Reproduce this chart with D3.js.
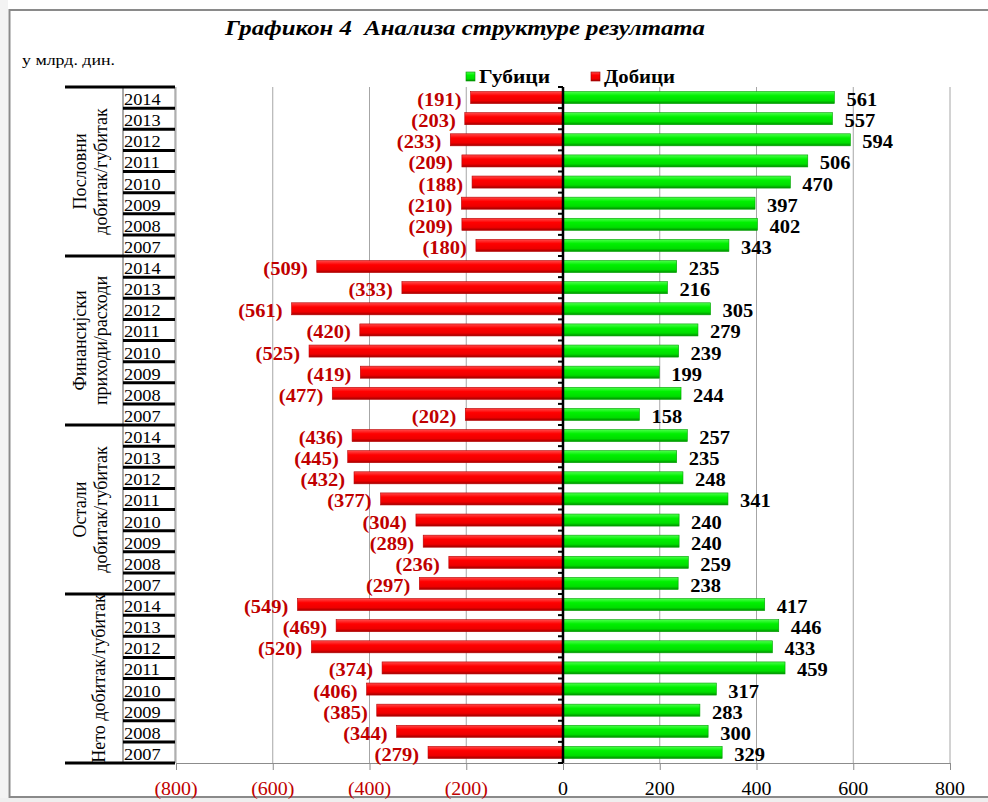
<!DOCTYPE html>
<html>
<head>
<meta charset="utf-8">
<script src="https://cdn.jsdelivr.net/npm/d3@7"></script>
<style>
  html, body { margin: 0; padding: 0; background: #fff; }
  svg { display: block; }
  text { font-family: "Liberation Serif", "Times New Roman", serif; }
</style>
</head>
<body>
<svg id="chart" width="988" height="802"></svg>
<script>
// Category levels (top to bottom)
const groups = [
  ["Пословни", "добитак/губитак"],
  ["Финансијски", "приходи/расходи"],
  ["Остали", "добитак/губитак"],
  ["Нето добитак/губитак"]
];
const years = ["2014", "2013", "2012", "2011", "2010", "2009", "2008", "2007"];

// Добици (shown on the negative side), one value per row
const gains = [
  -191, -203, -233, -209, -188, -210, -209, -180,
  -509, -333, -561, -420, -525, -419, -477, -202,
  -436, -445, -432, -377, -304, -289, -236, -297,
  -549, -469, -520, -374, -406, -385, -344, -279
];
// Губици (positive side), one value per row
const losses = [
  561, 557, 594, 506, 470, 397, 402, 343,
  235, 216, 305, 279, 239, 199, 244, 158,
  257, 235, 248, 341, 240, 240, 259, 238,
  417, 446, 433, 459, 317, 283, 300, 329
];
const xTicks = [-800, -600, -400, -200, 0, 200, 400, 600, 800];
const seriesNames = ["Губици", "Добици"];
const titleText = "Графикон 4  Анализа структуре резултата";
const unitText = "у млрд. дин.";

const RED = "#c00000";
const svg = d3.select("#chart");

// Bar gradients
const defs = svg.append("defs");
const gGreen = defs.append("linearGradient").attr("id", "gGreen").attr("x1", 0).attr("y1", 0).attr("x2", 0).attr("y2", 1);
gGreen.append("stop").attr("offset", "0%").attr("stop-color", "#4dff4d");
gGreen.append("stop").attr("offset", "35%").attr("stop-color", "#00f000");
gGreen.append("stop").attr("offset", "75%").attr("stop-color", "#00dd00");
gGreen.append("stop").attr("offset", "100%").attr("stop-color", "#008f00");
const gRed = defs.append("linearGradient").attr("id", "gRed").attr("x1", 0).attr("y1", 0).attr("x2", 0).attr("y2", 1);
gRed.append("stop").attr("offset", "0%").attr("stop-color", "#ff4a4a");
gRed.append("stop").attr("offset", "35%").attr("stop-color", "#ff0000");
gRed.append("stop").attr("offset", "75%").attr("stop-color", "#ee0000");
gRed.append("stop").attr("offset", "100%").attr("stop-color", "#a00000");

// Frame
svg.append("rect").attr("x", 0).attr("y", 0).attr("width", 8).attr("height", 802).attr("fill", "#f3f3f3");
svg.append("rect").attr("x", 0).attr("y", 798).attr("width", 988).attr("height", 4).attr("fill", "#efefef");
svg.append("rect").attr("x", 9.5).attr("y", 10).attr("width", 1000).attr("height", 787)
  .attr("fill", "none").attr("stroke", "#8a8a8a").attr("stroke-width", 2);

// Horizontally stretched text helper
function label(parent, x, y, str, opts) {
  const g = parent.append("g").attr("transform", `translate(${x},${y}) scale(${opts.sx || 1},1)`);
  return g.append("text")
    .attr("text-anchor", opts.anchor || "start")
    .attr("font-size", opts.size)
    .attr("font-weight", opts.weight || "normal")
    .attr("font-style", opts.style || "normal")
    .attr("fill", opts.fill || "#000")
    .text(str);
}

// Title and unit
svg.append("text").attr("x", 225).attr("y", 35)
  .attr("font-size", 21).attr("font-weight", "bold").attr("font-style", "italic")
  .attr("textLength", 480).attr("lengthAdjust", "spacingAndGlyphs")
  .style("white-space", "pre").text(titleText);
svg.append("text").attr("x", 22).attr("y", 65).attr("font-size", 15)
  .attr("textLength", 93).attr("lengthAdjust", "spacingAndGlyphs").text(unitText);

// Scales
const rows = groups.flatMap((g, gi) => years.map((yr, yi) => ({
  key: gi + "-" + yr, year: yr, group: gi, i: gi * years.length + yi
})));
rows.forEach(r => { r.gain = gains[r.i]; r.loss = losses[r.i]; });

const plotTop = 87, plotBottom = 763;
const x = d3.scaleLinear().domain([-800, 800]).range([176, 950]);
const y = d3.scaleBand().domain(rows.map(r => r.key)).range([plotTop, plotBottom])
  .paddingInner(0.43).paddingOuter(0.215);
const step = y.step();

// Gridlines
svg.append("g").selectAll("line").data(xTicks.filter(t => t !== 0)).join("line")
  .attr("x1", d => x(d)).attr("x2", d => x(d)).attr("y1", plotTop).attr("y2", plotBottom)
  .attr("stroke", "#a6a6a6").attr("stroke-width", 1);

// Bottom value axis
const xAxis = svg.append("g").attr("transform", `translate(0,${plotBottom})`)
  .call(d3.axisBottom(x).tickValues(xTicks).tickSize(7).tickSizeOuter(0)
    .tickFormat(d => d < 0 ? `(${Math.abs(d)})` : String(d)));
xAxis.select(".domain").attr("stroke", "#8c8c8c").attr("stroke-width", 1.2);
xAxis.selectAll(".tick line").attr("stroke", "#8c8c8c");
xAxis.selectAll(".tick text").remove();
xTicks.forEach(t => {
  label(svg, x(t), 795, t < 0 ? `(${Math.abs(t)})` : String(t),
    { size: 19, sx: 1.05, anchor: "middle", fill: t < 0 ? RED : "#000" });
});

// Bars
const barG = svg.append("g");
barG.selectAll("rect.gain").data(rows).join("rect").attr("class", "gain")
  .attr("x", d => x(d.gain)).attr("width", d => x(0) - x(d.gain))
  .attr("y", d => y(d.key)).attr("height", y.bandwidth())
  .attr("fill", "url(#gRed)").attr("stroke", "#b80000").attr("stroke-width", 0.6);
barG.selectAll("rect.loss").data(rows).join("rect").attr("class", "loss")
  .attr("x", x(0)).attr("width", d => x(d.loss) - x(0))
  .attr("y", d => y(d.key)).attr("height", y.bandwidth())
  .attr("fill", "url(#gGreen)").attr("stroke", "#00a000").attr("stroke-width", 0.6);

// Value labels
rows.forEach(r => {
  const cy = y(r.key) + y.bandwidth() / 2 + 8.5;
  label(svg, x(r.gain) - 9, cy, `(${Math.abs(r.gain)})`,
    { size: 19, sx: 1.08, weight: "bold", anchor: "end", fill: RED });
  label(svg, x(r.loss) + 12, cy, String(r.loss),
    { size: 19, sx: 1.08, weight: "bold", anchor: "start", fill: "#000" });
});

// Zero axis with row ticks
svg.append("line").attr("x1", x(0)).attr("x2", x(0)).attr("y1", plotTop).attr("y2", plotBottom)
  .attr("stroke", "#000").attr("stroke-width", 2.5);
svg.append("g").selectAll("line").data(d3.range(rows.length + 1)).join("line")
  .attr("x1", x(0) - 5).attr("x2", x(0))
  .attr("y1", i => plotTop + i * step).attr("y2", i => plotTop + i * step)
  .attr("stroke", "#000").attr("stroke-width", 2);

// Multi-level category axis
const yearX0 = 123, axisX = 175, groupX0 = 65;
svg.append("line").attr("x1", axisX).attr("x2", axisX).attr("y1", plotTop).attr("y2", plotBottom)
  .attr("stroke", "#8c8c8c").attr("stroke-width", 1);
svg.append("line").attr("x1", yearX0).attr("x2", yearX0).attr("y1", plotTop).attr("y2", plotBottom)
  .attr("stroke", "#555").attr("stroke-width", 1);
rows.forEach((r, i) => {
  const rowTop = plotTop + i * step;
  label(svg, yearX0 + 1, rowTop + 18, r.year, { size: 17, sx: 1.08 });
  if (i % years.length !== years.length - 1) {
    svg.append("line").attr("x1", yearX0).attr("x2", axisX)
      .attr("y1", rowTop + step).attr("y2", rowTop + step)
      .attr("stroke", "#000").attr("stroke-width", 3);
  }
});
groups.forEach((g, gi) => {
  const gTop = plotTop + gi * years.length * step;
  const cy = gTop + years.length * step / 2;
  const centers = g.length === 2 ? [80, 101] : [99];
  g.forEach((ln, li) => {
    svg.append("text")
      .attr("transform", `translate(${centers[li]},${cy}) rotate(-90)`)
      .attr("text-anchor", "middle").attr("dy", "0.33em")
      .attr("font-size", 18).text(ln);
  });
});
d3.range(groups.length + 1).forEach(gi => {
  const yy = plotTop + gi * years.length * step;
  svg.append("line").attr("x1", groupX0).attr("x2", axisX).attr("y1", yy).attr("y2", yy)
    .attr("stroke", "#000").attr("stroke-width", 3);
});

// Legend
const legend = [
  { name: seriesNames[0], fill: "url(#gGreen)", stroke: "#009000", x: 466, tx: 479 },
  { name: seriesNames[1], fill: "url(#gRed)", stroke: "#a00000", x: 591, tx: 604 }
];
legend.forEach(l => {
  svg.append("rect").attr("x", l.x).attr("y", 72).attr("width", 9).attr("height", 9)
    .attr("fill", l.fill).attr("stroke", l.stroke).attr("stroke-width", 0.6);
  svg.append("text").attr("x", l.tx).attr("y", 83).attr("font-size", 18).attr("font-weight", "bold")
    .attr("textLength", 71).attr("lengthAdjust", "spacingAndGlyphs").text(l.name);
});
</script>
</body>
</html>
